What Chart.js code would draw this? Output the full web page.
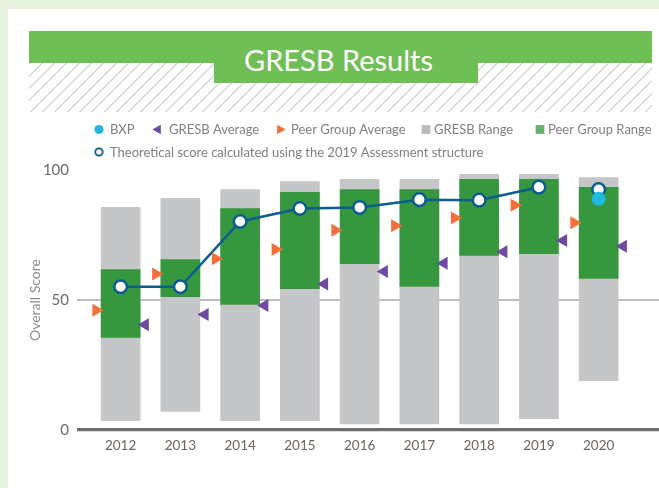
<!DOCTYPE html>
<html>
<head>
<meta charset="utf-8">
<script src="https://cdn.jsdelivr.net/npm/chart.js@4.4.1/dist/chart.umd.min.js"></script>
<style>
  html, body { margin: 0; padding: 0; }
  body { width: 659px; height: 488px; background: #e6f1de; position: relative; overflow: hidden; font-family: Lato, sans-serif; }
  #card { position: absolute; left: 8px; top: 9px; right: 0; bottom: 0; background: #ffffff; }
  #banner { position: absolute; left: 29px; top: 31px; width: 623px; height: 32px; background: #70bf56; }
  #hatch { position: absolute; left: 29px; top: 63px; width: 623px; height: 49px;
    background: repeating-linear-gradient(135deg, #d9d9d9 0px, #d9d9d9 1.4px, rgba(255,255,255,0) 1.4px, rgba(255,255,255,0) 8.7px); }
  #tab { position: absolute; left: 214px; top: 62px; width: 264px; height: 21px; background: #70bf56; }
  #title { position: absolute; left: 244px; top: 44.5px; font-family: Lato, sans-serif; font-weight: 400; font-size: 29px; line-height: 30px; color: #ffffff; white-space: nowrap; }
  #chart { position: absolute; left: 8px; top: 112px; }
</style>
</head>
<body>
<div id="card"></div>
<div id="banner"></div>
<div id="hatch"></div>
<div id="tab"></div>
<div id="title">GRESB Results</div>
<canvas id="chart" width="651" height="376"></canvas>
<script>
// ---- data ----
const years = ['2012', '2013', '2014', '2015', '2016', '2017', '2018', '2019', '2020'];
const gresbRangeLow  = [3.6, 7.1, 3.6, 3.6, 2.3, 2.3, 2.3, 4.4, 19.0];
const gresbRangeHigh = [85.6, 89.1, 92.5, 95.5, 96.4, 96.4, 98.3, 98.3, 97.1];
const peerRangeLow   = [35.6, 51.3, 48.3, 54.4, 64.0, 55.2, 67.1, 67.8, 58.3];
const peerRangeHigh  = [61.7, 65.5, 85.2, 91.4, 92.5, 92.5, 96.4, 96.4, 93.3];
const gresbAverage   = [40.5, 44.4, 47.9, 56.2, 61.0, 64.1, 68.6, 72.9, 70.7];
const peerAverage    = [46.1, 60.0, 65.9, 69.4, 76.8, 78.6, 81.5, 86.4, 79.7];
const theoreticalScore = [55.1, 55.1, 80.2, 85.2, 85.6, 88.6, 88.4, 93.4, 92.5];
const bxpScore       = [null, null, null, null, null, null, null, null, 88.9];
const yTickValues    = [0, 50, 100];

// ---- styles ----
const C = {
  grey: '#c5c6c8', green: '#36973f', greenLegend: '#6ab36c', blue: '#0b5c8f',
  cyan: '#20b8de', purple: '#7049a0', orange: '#f46e3a'
};
const MARKER_SHIFT = 0.41; // horizontal offset of average markers from bar centre (category units)

const atIndex = (arr, shift = 0) => arr.map((v, i) => ({ x: i + shift, y: v }));
const rangeAt = (lo, hi) => lo.map((v, i) => ({ x: i, y: [v, hi[i]] }));

const datasets = [
  { type: 'line', label: 'BXP', data: atIndex(bxpScore), showLine: false,
    pointRadius: 7, pointBackgroundColor: C.cyan, pointBorderWidth: 0, order: 0,
    legendStyle: { pointStyle: 'circle', radius: 4.6, fill: C.cyan } },
  { type: 'line', label: 'GRESB Average', data: atIndex(gresbAverage, MARKER_SHIFT), showLine: false,
    pointStyle: 'triangle', rotation: -90, pointRadius: 7.5, pointBackgroundColor: C.purple, pointBorderWidth: 0, order: 1,
    legendStyle: { pointStyle: 'triangle', rotation: -90, radius: 5.6, fill: C.purple } },
  { type: 'line', label: 'Peer Group Average', data: atIndex(peerAverage, -MARKER_SHIFT), showLine: false,
    pointStyle: 'triangle', rotation: 90, pointRadius: 7.5, pointBackgroundColor: C.orange, pointBorderWidth: 0, order: 1,
    legendStyle: { pointStyle: 'triangle', rotation: 90, radius: 5.6, fill: C.orange } },
  { type: 'bar', label: 'GRESB Range', data: rangeAt(gresbRangeLow, gresbRangeHigh),
    backgroundColor: C.grey, borderWidth: 0, barThickness: 39, grouped: false, order: 4,
    legendStyle: { pointStyle: 'rect', radius: 6.2, fill: '#b9babc' } },
  { type: 'bar', label: 'Peer Group Range', data: rangeAt(peerRangeLow, peerRangeHigh),
    backgroundColor: C.green, borderWidth: 0, barThickness: 39, grouped: false, order: 3,
    legendStyle: { pointStyle: 'rect', radius: 6.2, fill: C.greenLegend } },
  { type: 'line', label: 'Theoretical score calculated using the 2019 Assessment structure',
    data: atIndex(theoreticalScore), borderColor: C.blue, borderWidth: 2.5,
    segment: { borderColor: c => c.p1DataIndex === theoreticalScore.length - 1 ? 'rgba(0,0,0,0)' : C.blue },
    pointRadius: 6.3, pointBackgroundColor: '#ffffff', pointBorderColor: C.blue, pointBorderWidth: 2.5, order: 2,
    legendStyle: { pointStyle: 'circle', radius: 3.7, fill: '#ffffff', stroke: C.blue, borderWidth: 1.8 } }
];

// legend layout (canvas coordinates): marker centres per row
const legendRows = [
  { y: 17.5, markerX: [91, 150, 272, 418, 532] },
  { y: 40, markerX: [91] }
];

const customLegend = {
  id: 'customLegend',
  afterDraw(chart) {
    const ctx = chart.ctx;
    let k = 0;
    ctx.save();
    ctx.font = '13px Lato';
    ctx.textBaseline = 'middle';
    ctx.textAlign = 'left';
    legendRows.forEach(row => {
      row.markerX.forEach(mx => {
        const ds = chart.data.datasets[k++];
        if (!ds) return;
        const st = ds.legendStyle;
        ctx.fillStyle = st.fill;
        ctx.strokeStyle = st.stroke || st.fill;
        ctx.lineWidth = st.borderWidth || 0;
        Chart.helpers.drawPoint(ctx, { pointStyle: st.pointStyle, rotation: st.rotation || 0, radius: st.radius, borderWidth: st.borderWidth || 0 }, mx, row.y);
        ctx.fillStyle = '#7f7f7f';
        const tx = st.pointStyle === 'rect' ? mx + 8 : mx + 11;
        ctx.fillText(ds.label, tx, row.y + 0.5);
      });
    });
    ctx.restore();
  }
};

new Chart(document.getElementById('chart'), {
  type: 'bar',
  data: { datasets },
  plugins: [customLegend],
  options: {
    responsive: false,
    animation: false,
    devicePixelRatio: 1,
    layout: { autoPadding: false, padding: { top: 58, bottom: 28, left: 0, right: 0 } },
    plugins: { legend: { display: false }, tooltip: { enabled: false } },
    scales: {
      x: {
        type: 'linear', min: -0.73, max: 9.01, offset: false,
        grid: { display: false, drawTicks: false },
        border: { display: false },
        afterBuildTicks: s => { s.ticks = years.map((_, i) => ({ value: i })); },
        afterFit: s => { s.height = 30; },
        ticks: {
          autoSkip: false, maxRotation: 0, padding: 8,
          font: { family: 'Lato', size: 13.5 }, color: '#6e655e',
          callback: v => years[v]
        }
      },
      y: {
        min: 0, max: 100,
        afterBuildTicks: s => { s.ticks = yTickValues.map(v => ({ value: v })); },
        afterFit: s => { s.width = 69; },
        grid: {
          drawTicks: false,
          color: c => c.tick.value === 0 ? '#6e6e6e' : (c.tick.value === 50 ? '#bdbdbd' : 'rgba(0,0,0,0)'),
          lineWidth: c => c.tick.value === 0 ? 3.3 : 2
        },
        border: { display: false },
        ticks: { padding: 8, font: { family: 'Lato', size: 15 }, color: '#6b6b6b' },
        title: { display: true, text: 'Overall Score', font: { family: 'Lato', size: 14 }, color: '#8c8c8c', padding: { top: 18.6, bottom: 0 } }
      }
    }
  }
});
</script>
</body>
</html>
